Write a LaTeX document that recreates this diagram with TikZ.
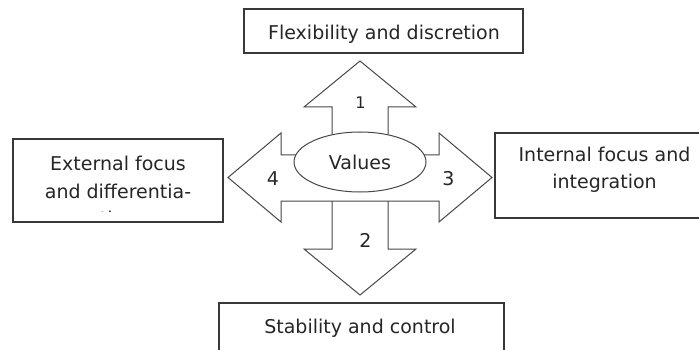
\documentclass[tikz,border=0pt]{standalone}
\usepackage{fontspec}
\setmainfont{DejaVu Sans}
\usetikzlibrary{shapes.geometric}
\begin{document}
\begin{tikzpicture}[x=1pt,y=-1pt,
  boxline/.style={draw=black!78, line width=1.3pt},
  arrowline/.style={draw=black!72, line width=1pt, fill=white, line join=miter},
  box/.style={boxline, fill=white, rectangle, inner sep=0pt},
  lbl/.style={text=black!85, font=\fontsize{19}{27.5}\selectfont, align=center, inner sep=0pt},
  num/.style={text=black!85, font=\fontsize{19}{19}\selectfont, inner sep=0pt}]
\useasboundingbox (0,0) rectangle (699,350);
\clip (0,0) rectangle (699,350);

% boxes
\node[box, minimum width=279pt, minimum height=44pt] (topbox) at (383.5,31) {};
\node[lbl] (toptext) at (384,34) {Flexibility and discretion};

\node[box, minimum width=210pt, minimum height=83pt] (leftbox) at (118,180.5) {};
\begin{scope}
  \clip (13,139) rectangle (223,211.5);
  \node[lbl] (lefttext) at (118,191) {External focus\\and differentia-\\tion};
\end{scope}

\node[box, minimum width=219pt, minimum height=85pt] (rightbox) at (604.5,175.5) {};
\node[lbl] (righttext) at (604.5,170) {Internal focus and\\integration};

\node[box, minimum width=285pt, minimum height=60pt] (bottombox) at (361.5,333) {};
\node[lbl] (bottomtext) at (360,328) {Stability and control};

% arrows
\draw[arrowline] (332,155) -- (332,107) -- (304,107) -- (360,61) -- (416,107)
  -- (388,107) -- (388,155);
\draw[arrowline] (332,201) -- (332,249) -- (304,249) -- (360,295) -- (416,249)
  -- (388,249) -- (388,201);
\draw[arrowline] (228,177.5) -- (281,133) -- (281,155) -- (439,155) -- (439,133)
  -- (492,177.5) -- (439,222) -- (439,201) -- (281,201) -- (281,222) -- cycle;

% center ellipse
\node[ellipse, arrowline, minimum width=132pt, minimum height=60pt, inner sep=0pt,
  text=black!85, font=\fontsize{19}{19}\selectfont] (values) at (360,162) {Values};

% numbers
\node[num, font=\fontsize{16}{16}\selectfont] (n1) at (360.5,102.5) {1};
\node[num] (n2) at (365.5,240) {2};
\node[num] (n3) at (448.5,178.5) {3};
\node[num] (n4) at (273,178.5) {4};
\end{tikzpicture}
\end{document}
